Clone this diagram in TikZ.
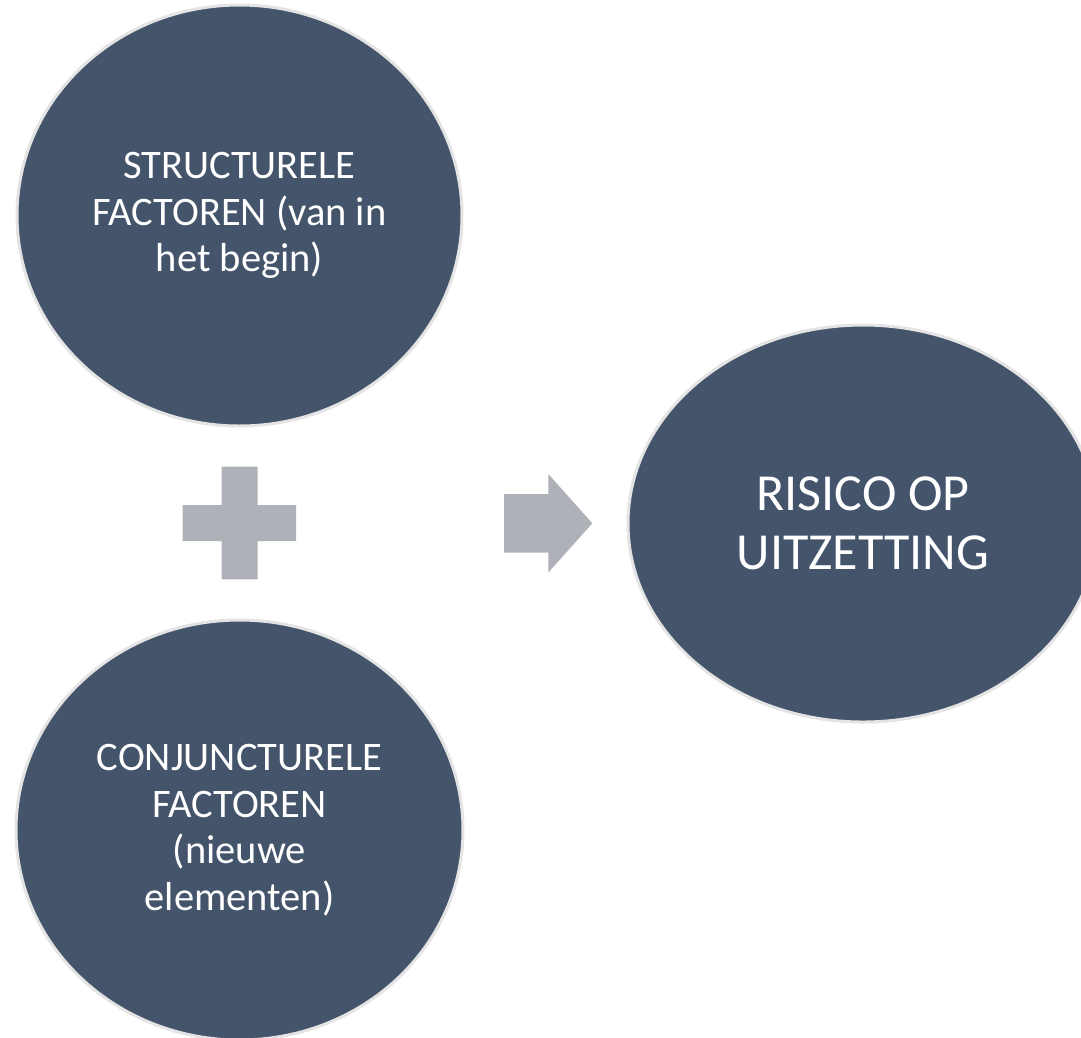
\documentclass[tikz,border=0pt]{standalone}
\usepackage{fontspec}
\setmainfont{Carlito}
\usetikzlibrary{shapes.geometric}
\definecolor{navy}{HTML}{44546A}
\definecolor{ring}{HTML}{E4E4E4}
\definecolor{shapegray}{HTML}{AEB1B8}
\tikzset{
  bubble/.style={ellipse, fill=navy, draw=ring, line width=3pt, inner sep=0pt,
    text=white, align=center},
  smalltext/.style={font=\fontsize{40.5}{46.5}\selectfont},
  bigtext/.style={font=\fontsize{52}{58.5}\selectfont},
  glyph/.style={fill=shapegray, draw=none}
}
\begin{document}
\begin{tikzpicture}[x=1pt,y=-1pt]
\useasboundingbox (0,0) rectangle (1081,1037);
\clip (0,0) rectangle (1081,1037);
\fill[white] (0,0) rectangle (1081,1037);
\node[bubble, smalltext, minimum width=445pt, minimum height=421pt] (struct) at (239.5,215.5)
  {STRUCTURELE\\FACTOREN (van in\\het begin)};
\node[bubble, smalltext, minimum width=447pt, minimum height=420pt] (conj) at (239.5,830)
  {CONJUNCTURELE\\FACTOREN\\(nieuwe\\elementen)};
\node[bubble, bigtext, minimum width=470pt, minimum height=397pt] (risk) at (863,523.5)
  {RISICO OP\\UITZETTING};
% plus sign
\fill[glyph] (221.7,466.7) -- (257.7,466.7) -- (257.7,505) -- (296,505) -- (296,541)
  -- (257.7,541) -- (257.7,579.3) -- (221.7,579.3) -- (221.7,541) -- (182.7,541)
  -- (182.7,505) -- (221.7,505) -- cycle;
% arrow
\fill[glyph] (504,494) -- (548.3,494) -- (548.3,474) -- (592.3,523.3) -- (548.3,572.5)
  -- (548.3,552.7) -- (504,552.7) -- cycle;
\end{tikzpicture}
\end{document}
